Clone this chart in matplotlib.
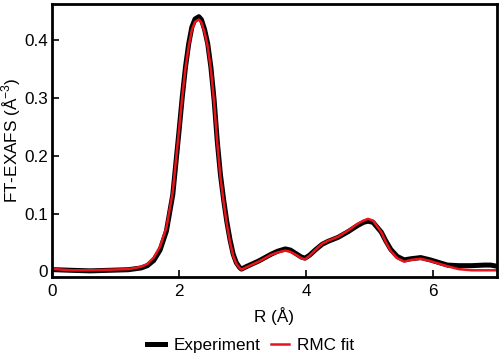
import matplotlib
matplotlib.use("Agg")
import matplotlib.pyplot as plt

plt.rcParams['font.family'] = ['Liberation Sans', 'DejaVu Sans']
plt.rcParams['mathtext.fontset'] = 'custom'
plt.rcParams['mathtext.rm'] = 'Liberation Sans'

r_exp = [0.05, 0.3, 0.6, 0.9, 1.2, 1.4, 1.5, 1.6, 1.7, 1.8, 1.9, 2.0, 2.05, 2.1, 2.15,
         2.2, 2.25, 2.31, 2.35, 2.4, 2.45, 2.5, 2.55, 2.6, 2.65, 2.7, 2.75, 2.8, 2.85,
         2.9, 2.95, 2.98, 3.05, 3.15, 3.25, 3.35, 3.45, 3.55, 3.67, 3.75, 3.85, 3.92,
         3.98, 4.05, 4.15, 4.25, 4.34, 4.5, 4.66, 4.8, 4.9, 4.97, 5.05, 5.18, 5.25, 5.33,
         5.43, 5.54, 5.65, 5.8, 5.95, 6.1, 6.22, 6.4, 6.6, 6.8, 6.9, 7.0]
y_exp = [0.003, 0.002, 0.001, 0.002, 0.003, 0.006, 0.010, 0.019, 0.037, 0.070, 0.133,
         0.245, 0.303, 0.354, 0.394, 0.423, 0.437, 0.441, 0.436, 0.419, 0.394, 0.353,
         0.297, 0.225, 0.167, 0.124, 0.086, 0.055, 0.030, 0.015, 0.007, 0.004, 0.008,
         0.013, 0.018, 0.024, 0.030, 0.035, 0.039, 0.037, 0.030, 0.025, 0.023, 0.028,
         0.038, 0.047, 0.052, 0.059, 0.069, 0.079, 0.085, 0.087, 0.085, 0.068, 0.053,
         0.038, 0.026, 0.020, 0.022, 0.024, 0.020, 0.015, 0.011, 0.010, 0.010, 0.011,
         0.011, 0.009]

r_fit = [0.05, 0.3, 0.6, 0.9, 1.2, 1.4, 1.5, 1.6, 1.7, 1.8, 1.9, 2.0, 2.05, 2.1, 2.15,
         2.2, 2.25, 2.31, 2.35, 2.4, 2.45, 2.5, 2.55, 2.6, 2.65, 2.7, 2.75, 2.8, 2.85,
         2.9, 2.95, 2.98, 3.05, 3.15, 3.25, 3.35, 3.45, 3.55, 3.67, 3.75, 3.85, 3.92,
         3.98, 4.05, 4.15, 4.25, 4.34, 4.5, 4.66, 4.8, 4.9, 4.97, 5.05, 5.18, 5.25, 5.33,
         5.43, 5.54, 5.65, 5.8, 5.95, 6.1, 6.22, 6.4, 6.6, 6.8, 7.0]
y_fit = [0.004, 0.002, 0.002, 0.003, 0.004, 0.008, 0.013, 0.024, 0.043, 0.076, 0.138,
         0.247, 0.303, 0.352, 0.390, 0.418, 0.432, 0.436, 0.431, 0.414, 0.389, 0.349,
         0.293, 0.222, 0.163, 0.120, 0.082, 0.051, 0.027, 0.013, 0.006, 0.003, 0.007,
         0.012, 0.017, 0.023, 0.029, 0.033, 0.036, 0.034, 0.028, 0.023, 0.021, 0.027,
         0.038, 0.048, 0.053, 0.060, 0.071, 0.082, 0.088, 0.091, 0.088, 0.068, 0.051,
         0.035, 0.023, 0.017, 0.020, 0.022, 0.018, 0.013, 0.009, 0.004, 0.002, 0.002,
         0.002]

xticks = [0, 2, 4, 6]
yticks = [0, 0.1, 0.2, 0.3, 0.4]
yticklabels = ['0', '0.1', '0.2', '0.3', '0.4']

fs = 12.3
fig = plt.figure(figsize=(5, 3.62), dpi=100)
ax = fig.add_axes([0.104, 0.235, 0.890, 0.754])
ax.plot(r_exp, y_exp, color='black', lw=3.6, label='Experiment', solid_joinstyle='round')
ax.plot(r_fit, y_fit, color='#e8141b', lw=1.8, label='RMC fit', solid_joinstyle='round')
ax.set_xlim(0, 7)
ax.set_ylim(-0.0095, 0.463)
ax.set_xticks(xticks)
ax.set_xticklabels([str(t) for t in xticks])
ax.set_yticks(yticks)
ax.set_yticklabels(yticklabels)
ax.tick_params(direction='in', length=5, width=1.2, labelsize=fs)
ax.tick_params(axis='x', pad=5)
ax.tick_params(axis='y', pad=3)
for s in ax.spines.values():
    s.set_linewidth(2)
ax.set_xlabel('R (Å)', fontsize=fs, labelpad=6)
ax.set_ylabel('FT-EXAFS (Å$^{-3}$)', fontsize=fs, va='center', ha='center')
ax.yaxis.set_label_coords(-0.092, 0.5)
fig.legend(loc='center', bbox_to_anchor=(0.502, 0.045), ncol=2, frameon=False,
           fontsize=fs, handlelength=1.05, columnspacing=0.6, handletextpad=0.5)
fig.savefig('out.png', dpi=100)
